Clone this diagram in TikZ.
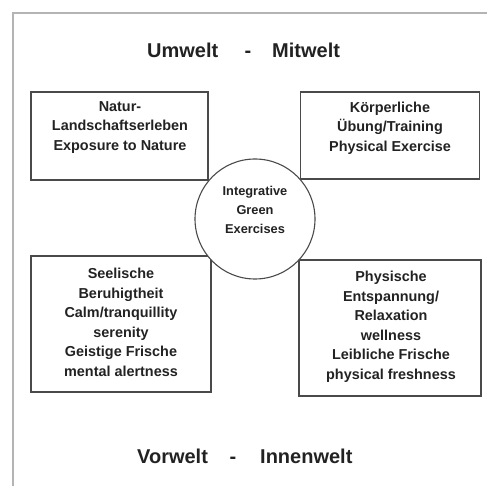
\documentclass[tikz,border=0pt]{standalone}
\usepackage{fontspec}
\setmainfont{Liberation Sans}
\definecolor{framegray}{HTML}{B4B4B4}
\definecolor{boxline}{HTML}{4A4A4A}
\definecolor{txt}{HTML}{222222}
\begin{document}
\begin{tikzpicture}[x=1pt,y=-1pt,
  box/.style={draw=boxline,line width=1.3pt,inner sep=0pt},
  boxtext/.style={align=center,text=txt,inner sep=0pt,font=\fontsize{14.4}{19.5}\selectfont\bfseries},
  title/.style={anchor=base west,inner sep=0pt,text=txt,font=\fontsize{20}{24}\selectfont\bfseries},
  dashtitle/.style={anchor=base,inner sep=0pt,text=txt,font=\fontsize{20}{24}\selectfont\bfseries}]
\useasboundingbox (0,0) rectangle (487,486);
% partial frame
\draw[framegray,line width=2pt] (13,486) -- (13,13) -- (487,13);
% boxes
\node[box,minimum width=177pt,minimum height=88pt] (tl) at (119.5,136) {};
\node[box,minimum width=179pt,minimum height=87pt] (tr) at (390,135.5) {};
\node[box,minimum width=180pt,minimum height=136pt] (bl) at (121,324) {};
\node[box,minimum width=182pt,minimum height=136pt] (br) at (390,328) {};
% box texts
\node[boxtext] (tlt) at (120,127.5) {Natur-\\Landschaftserleben\\Exposure to Nature};
\node[boxtext] (trt) at (390,128) {Körperliche\\Übung/Training\\Physical Exercise};
\node[boxtext] (blt) at (121,322.5) {Seelische\\Beruhigtheit\\Calm/tranquillity\\serenity\\Geistige Frische\\mental alertness};
\node[boxtext] (brt) at (391,327) {Physische\\Entspannung/\\Relaxation\\wellness\\Leibliche Frische\\physical freshness};
% circle
\node[circle,draw=boxline,line width=1.1pt,fill=white,minimum size=120pt,inner sep=0pt] (c) at (255,219) {};
\node[align=center,text=txt,inner sep=0pt,font=\fontsize{12.8}{19}\selectfont\bfseries] (ct) at (255,209.5) {Integrative\\Green\\Exercises};
% titles
\node[title] (um) at (147,58) {Umwelt};
\node[dashtitle] (d1) at (248,58) {-};
\node[title] (mi) at (272,58) {Mitwelt};
\node[title] (vo) at (137,463) {Vorwelt};
\node[dashtitle] (d2) at (233,463) {-};
\node[title] (in) at (260,463) {Innenwelt};
\end{tikzpicture}
\end{document}
